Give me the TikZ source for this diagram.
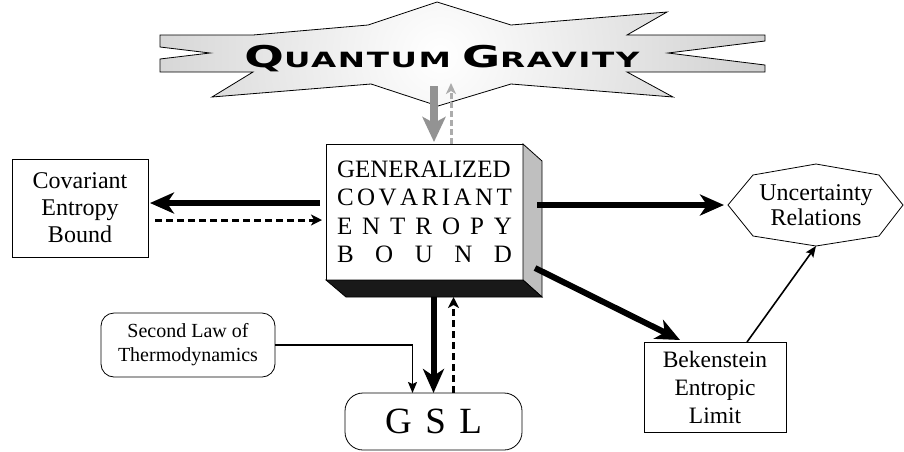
\documentclass[tikz,border=0pt]{standalone}
\usepackage{fontspec}
\setmainfont{Liberation Serif}
\newfontfamily\qgfont[LetterSpace=5]{DejaVu Sans}
\usepackage{graphicx}
\usetikzlibrary{positioning,calc,arrows.meta}

\newcommand{\spreadline}[1]{\makebox[175pt][s]{#1}}

\begin{document}
\begin{tikzpicture}[x=1pt,y=-1pt,
    box/.style={draw, line width=0.8pt, fill=white, inner sep=0pt, outer sep=0pt, align=center},
    roundbox/.style={box, rounded corners=13pt},
    bigarrow/.style={line width=6pt, -{Stealth[length=24pt,width=21pt,inset=7pt]}},
    dasharrow/.style={line width=3pt, dash pattern=on 7pt off 4pt, -{Stealth[length=11pt,width=11pt,inset=3pt]}},
    thinarrow/.style={line width=1.6pt, -{Stealth[length=11pt,width=9pt,inset=2pt]}},
    grayarrow/.style={draw=gray!85, line width=8pt, -{Stealth[length=25pt,width=23pt,inset=6pt]}},
    graydash/.style={draw=gray!65, line width=3pt, dash pattern=on 6pt off 3pt, -{Stealth[length=11pt,width=10pt,inset=3pt]}},
]
    \useasboundingbox (0,0) rectangle (904,451);

    % Quantum Gravity star
    \draw[line width=0.8pt, path picture={\shade[inner color=white, outer color=gray!70] (440,55) circle[radius=620pt];}]
        (437,2) -- (511,25) -- (667,12) -- (627,35) -- (765,35) -- (765,41) -- (668,53)
        -- (765,65) -- (765,72) -- (627,72) -- (673,97) -- (511,84) -- (438,106) -- (371,84)
        -- (212,97) -- (253,72) -- (160,72) -- (160,59) -- (210,53) -- (160,47) -- (160,35)
        -- (253,35) -- (368,25) -- cycle;
    \node[anchor=base, inner sep=0pt, font=\qgfont\bfseries] (qg) at (442,67)
        {\resizebox{395pt}{\height}{{\fontsize{30}{30}\selectfont Q}{\fontsize{21}{21}\selectfont UANTUM}\hspace{7pt}{\fontsize{30}{30}\selectfont G}{\fontsize{21}{21}\selectfont RAVITY}}};
    \coordinate (qg-a) at (434,86);
    \coordinate (qg-b) at (451,83);

    % Generalized covariant entropy bound (3D box)
    \node[box, minimum width=197pt, minimum height=136pt, font=\fontsize{25}{28.4}\selectfont] (gceb) at (424.5,212)
        {\spreadline{GENERALIZED}\\
         \spreadline{C\hfill O\hfill V\hfill A\hfill R\hfill I\hfill A\hfill N\hfill T}\\
         \spreadline{E\hfill N\hfill T\hfill R\hfill O\hfill P\hfill Y}\\
         \spreadline{B\hfill O\hfill U\hfill N\hfill D}};
    \filldraw[fill=gray!50, line width=0.8pt] (gceb.north east) -- ++(19,17) -- ++(0,136) -- (gceb.south east) -- cycle;
    \filldraw[fill=black!90, line width=0.8pt] (gceb.south west) -- ++(20,17) -- ($(gceb.south east)+(19,17)$) -- (gceb.south east) -- cycle;

    % other boxes
    \node[box, minimum width=136pt, minimum height=98pt, font=\fontsize{24}{27}\selectfont] (ceb) at (80,208) {Covariant\\Entropy\\Bound};
    \node[box, minimum width=142pt, minimum height=90pt, font=\fontsize{23.5}{28}\selectfont] (bek) at (715,387) {Bekenstein\\Entropic\\Limit};
    \node[roundbox, minimum width=174pt, minimum height=64pt, font=\fontsize{20}{24}\selectfont] (sec) at (188,345) {Second Law of\\Thermodynamics};
    \node[roundbox, rounded corners=18pt, minimum width=177pt, minimum height=57pt, font=\fontsize{37}{37}\selectfont] (gsl) at (433.5,421.5)
        {\makebox[97pt][s]{G\hfill S\hfill L}};
    \node[inner sep=0pt, align=center, font=\fontsize{24}{25}\selectfont] (unc) at (816,205) {Uncertainty\\Relations};
    \begin{scope}[shift={(unc.center)}]
        \draw[line width=0.8pt] (-88,0) coordinate (unc-w) -- (-63,-30) -- (0,-41) -- (63,-30) -- (87,0)
            -- (63,31) -- (0,41) coordinate (unc-s) -- (-63,31) -- cycle;
    \end{scope}

    % connectors
    \draw[grayarrow] (qg-a) -- ([xshift=9.5pt,yshift=2pt]gceb.north);
    \draw[graydash] ([xshift=26.5pt]gceb.north) -- (qg-b);
    \draw[bigarrow] ([xshift=-6pt,yshift=9pt]gceb.west) -- ([xshift=2pt,yshift=5pt]ceb.east);
    \draw[dasharrow] ([xshift=7pt,yshift=-12pt]ceb.east) -- ([xshift=-4pt,yshift=-8pt]gceb.west);
    \draw[bigarrow] ([xshift=14pt,yshift=7pt]gceb.east) -- ([xshift=-4pt]unc-w);
    \draw[bigarrow] ([xshift=12pt,yshift=-56pt]gceb.east) -- ([xshift=-35pt,yshift=2pt]bek.north);
    \draw[thinarrow] ([xshift=32pt]bek.north) -- (unc-s);
    \draw[bigarrow] ([xshift=9pt,yshift=-17pt]gceb.south) -- (gsl.north);
    \draw[dasharrow] ([xshift=20pt]gsl.north) -- ([xshift=29pt,yshift=-17pt]gceb.south);
    \draw[thinarrow] (sec.east) -| ([xshift=-21pt]gsl.north);
\end{tikzpicture}
\end{document}
